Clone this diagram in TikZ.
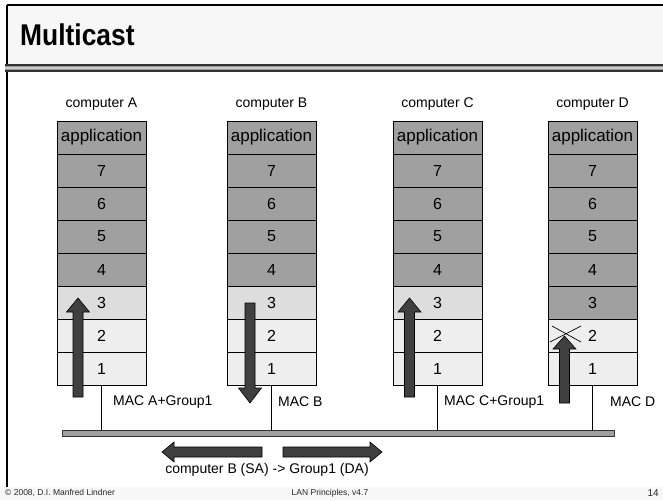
\documentclass[tikz,border=0pt]{standalone}
\usepackage{fontspec}
\setmainfont{Liberation Sans}
\newfontfamily\titfont[FakeStretch=0.88]{Liberation Sans}
\definecolor{dk}{HTML}{A0A0A0}
\definecolor{lt}{HTML}{EEEEEE}
\definecolor{mid}{HTML}{DDDDDD}
\definecolor{arr}{HTML}{404040}
\definecolor{band}{HTML}{F7F7F7}
\tikzset{
  row/.style={draw=black, line width=0.8pt, minimum width=89pt, minimum height=33pt, inner sep=0pt,
    font=\fontsize{16}{18}\selectfont},
  lbl/.style={font=\fontsize{14}{16}\selectfont, inner sep=0pt},
  maclbl/.style={font=\fontsize{14}{16}\selectfont, inner sep=0pt, anchor=west},
  fat/.style={fill=arr, draw=black, line width=0.6pt},
  foot/.style={font=\fontsize{8.5}{10}\selectfont, inner sep=0pt, text=black!85}
}
\newcommand\mystack[4]{%
  \node[lbl] (#1-lbl) at (#2,104) {computer #3};
  \node[row,fill=dk,font=\fontsize{17}{19}\selectfont] (#1-app) at (#2,137.5) {application};
  \foreach \n/\yy in {7/170.5,6/203.5,5/236.5,4/269.5}{\node[row,fill=dk] (#1-\n) at (#2,\yy) {\n};}
  \node[row,fill=#4] (#1-3) at (#2,302.5) {3};
  \node[row,fill=lt] (#1-2) at (#2,335.5) {2};
  \node[row,fill=lt] (#1-1) at (#2,368.5) {1};
}
\begin{document}
\begin{tikzpicture}[x=1pt,y=-1pt]
\useasboundingbox (0,0) rectangle (663,500);
\fill[white] (0,0) rectangle (663,500);
% title band
\fill[band] (7,5) rectangle (663,64);
\fill[band] (0,487) rectangle (663,500);
\draw[line width=1.5pt] (7,5) -- (663,5);
\draw[line width=1.5pt] (7,5) -- (7,487);
\fill[black!80] (5,64) rectangle (663,72);
\fill[black!40] (5,66) rectangle (663,70);
\fill[black!20] (5,67.3) rectangle (663,68.7);
\node[font=\titfont\bfseries\fontsize{30}{34}\selectfont, anchor=base west, inner sep=0pt] (title) at (20,46) {Multicast};
% stacks
\mystack{A}{101.5}{A}{mid}
\mystack{B}{271.5}{B}{mid}
\mystack{C}{437.5}{C}{mid}
\mystack{D}{592.5}{D}{dk}
% bus
\node[draw=black!80, fill=dk, line width=0.8pt, minimum width=552pt, minimum height=6pt, inner sep=0pt] (bus) at (338,433) {};
\foreach \s in {A,B,C,D}{\draw[line width=0.7pt] (\s-1.south) -- (\s-1.south |- bus.north);}
% MAC labels
\node[maclbl] (macA) at (113,402) {MAC A+Group1};
\node[maclbl] (macB) at (278,402) {MAC B};
\node[maclbl] (macC) at (444,402) {MAC C+Group1};
\node[maclbl] (macD) at (610,402) {MAC D};
% X in D layer 2
\draw[line width=0.7pt] (552,326) -- (581,342);
\draw[line width=0.7pt] (581,326) -- (550,342);
% vertical arrows
\filldraw[fat] (73,397) -- (73,312) -- (66.5,312) -- (78,298) -- (89.5,312) -- (83,312) -- (83,397) -- cycle;
\filldraw[fat] (245,303) -- (245,388) -- (238.5,388) -- (250,403) -- (261.5,388) -- (255,388) -- (255,303) -- cycle;
\filldraw[fat] (404.5,397) -- (404.5,312) -- (398,312) -- (409.5,298) -- (421,312) -- (414.5,312) -- (414.5,397) -- cycle;
\filldraw[fat] (559.5,403) -- (559.5,349) -- (553,349) -- (564.5,336) -- (576,349) -- (569.5,349) -- (569.5,403) -- cycle;
% horizontal arrows
\filldraw[fat] (262,447) -- (174,447) -- (174,442) -- (162,452) -- (174,462) -- (174,457) -- (262,457) -- cycle;
\filldraw[fat] (283,447) -- (370,447) -- (370,442) -- (382,452) -- (370,462) -- (370,457) -- (283,457) -- cycle;
\node[lbl] (frame) at (267,470) {computer B (SA) -> Group1 (DA)};
% footer
\node[foot, anchor=west] (copy) at (5,493) {© 2008, D.I. Manfred Lindner};
\node[foot] (course) at (330,493) {LAN Principles, v4.7};
\node[foot, anchor=east, font=\fontsize{10}{12}\selectfont] (page) at (659,493) {14};
\end{tikzpicture}
\end{document}
